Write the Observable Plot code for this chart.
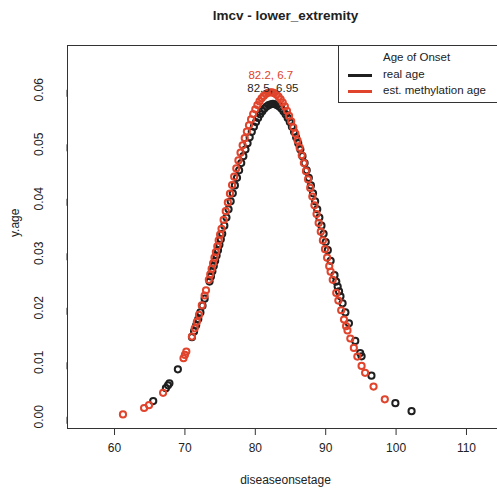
<!DOCTYPE html>
<html>
<head>
<meta charset="utf-8">
<script src="https://cdn.jsdelivr.net/npm/d3@7"></script>
<script src="https://cdn.jsdelivr.net/npm/@observablehq/plot@0.6"></script>
<style>
  html, body { margin: 0; padding: 0; background: #fff; overflow: hidden; }
  #wrap { position: relative; width: 503px; height: 489px; font-family: "Liberation Sans", Arial, sans-serif; color: #222; }
  #legend { position: absolute; left: 338px; top: 45px; width: 170px; height: 58px; border: 1px solid #333; box-sizing: border-box; background: #fff; font-size: 11.5px; }
  #legend .ttl { position: absolute; left: 44px; top: 5px; }
  #legend .row { position: absolute; left: 44px; }
  #legend .sw { position: absolute; left: 9px; width: 24px; height: 3px; }
</style>
</head>
<body>
<div id="wrap"></div>
<script>
// Series: real age (black)
const blackX = [65.5, 67.3, 67.6, 67.8, 69.0, 71.0, 71.3, 71.6, 71.9, 72.2, 72.5, 72.8, 73.5, 73.7, 73.9, 74.1, 74.3, 74.5, 74.7, 74.9, 75.1, 75.3, 75.6, 75.9, 76.2, 76.5, 76.8, 77.1, 77.4, 77.7, 78.0, 78.3, 78.6, 78.9, 79.2, 79.5, 79.8, 80.1, 80.4, 80.7, 81.0, 81.3, 81.6, 81.9, 82.2, 82.5, 82.8, 83.1, 83.4, 83.7, 84.0, 84.3, 84.6, 84.9, 85.2, 85.5, 85.8, 86.1, 86.4, 86.7, 87.0, 87.3, 87.6, 87.9, 88.2, 88.5, 88.8, 89.1, 89.4, 89.7, 90.0, 90.3, 90.7, 91.25, 91.5, 91.7, 91.9, 92.1, 92.4, 92.8, 93.3, 94.2, 94.9, 95.1, 96.5, 99.9, 102.2];
const blackY = [0.002883, 0.005252, 0.005767, 0.006131, 0.008702, 0.014601, 0.015668, 0.016781, 0.017938, 0.019141, 0.020388, 0.021673, 0.024818, 0.025751, 0.026695, 0.027651, 0.028620, 0.029595, 0.030579, 0.031570, 0.032567, 0.033566, 0.035069, 0.036569, 0.038065, 0.039543, 0.041009, 0.042448, 0.043855, 0.045222, 0.046548, 0.047822, 0.049042, 0.050194, 0.051284, 0.052296, 0.053229, 0.054080, 0.054841, 0.055509, 0.056081, 0.056552, 0.056923, 0.057188, 0.057349, 0.057402, 0.057349, 0.057188, 0.056923, 0.056552, 0.056081, 0.055509, 0.054841, 0.054080, 0.053229, 0.052296, 0.051284, 0.050194, 0.049042, 0.047822, 0.046548, 0.045222, 0.043855, 0.042448, 0.041009, 0.039543, 0.038065, 0.036569, 0.035069, 0.033566, 0.032065, 0.030579, 0.028620, 0.025986, 0.024818, 0.023903, 0.022998, 0.022111, 0.020812, 0.019141, 0.017163, 0.013917, 0.011688, 0.011099, 0.007547, 0.002500, 0.001033];

// Series: est. methylation age (red)
const redX = [61.2, 64.2, 64.9, 66.9, 69.8, 70.0, 70.2, 71.0, 71.4, 71.7, 72.0, 72.4, 72.8, 73.0, 73.4, 73.6, 73.8, 74.0, 74.2, 74.4, 74.6, 74.8, 75.0, 75.2, 75.5, 75.8, 76.1, 76.4, 76.7, 77.0, 77.3, 77.6, 77.9, 78.2, 78.5, 78.8, 79.1, 79.4, 79.7, 80.0, 80.3, 80.6, 80.9, 81.2, 81.5, 81.8, 82.1, 82.4, 82.7, 83.0, 83.3, 83.6, 83.9, 84.2, 84.5, 84.8, 85.1, 85.4, 85.7, 86.0, 86.3, 86.6, 86.9, 87.2, 87.5, 87.8, 88.1, 88.4, 88.7, 89.0, 89.3, 89.6, 89.9, 90.2, 90.5, 90.7, 91.0, 91.5, 91.8, 92.2, 92.6, 92.9, 93.1, 93.5, 94.0, 94.5, 95.1, 95.6, 96.8, 98.4];
const redY = [0.000438, 0.001613, 0.002124, 0.004391, 0.010742, 0.011348, 0.011976, 0.014725, 0.016241, 0.017439, 0.018688, 0.020430, 0.022254, 0.023197, 0.025133, 0.026126, 0.027135, 0.028157, 0.029191, 0.030235, 0.031293, 0.032356, 0.033424, 0.034497, 0.036115, 0.037732, 0.039340, 0.040937, 0.042514, 0.044059, 0.045574, 0.047039, 0.048463, 0.049825, 0.051122, 0.052348, 0.053500, 0.054565, 0.055540, 0.056419, 0.057197, 0.057870, 0.058434, 0.058884, 0.059220, 0.059438, 0.059537, 0.059517, 0.059378, 0.059121, 0.058747, 0.058258, 0.057658, 0.056950, 0.056137, 0.055225, 0.054220, 0.053126, 0.051950, 0.050698, 0.049377, 0.047994, 0.046557, 0.045072, 0.043547, 0.041990, 0.040407, 0.038806, 0.037194, 0.035577, 0.033962, 0.032356, 0.030764, 0.029191, 0.027644, 0.026629, 0.025133, 0.022722, 0.021332, 0.019548, 0.017851, 0.016635, 0.015854, 0.014361, 0.012628, 0.011041, 0.009329, 0.008059, 0.005543, 0.003202];

// Peak annotations
const annX = [82.5, 82.2];
const annY = [0.0603, 0.0627];
const annText = ["82.5, 6.95", "82.2, 6.7"];
const annColor = ["#1f1f1f", "#e0442c"];

// Ticks
const xTicks = [60, 70, 80, 90, 100, 110];
const xTickLabels = ["60", "70", "80", "90", "100", "110"];
const yTicks = [0, 0.01, 0.02, 0.03, 0.04, 0.05, 0.06];
const yTickLabels = ["0.00", "0.01", "0.02", "0.03", "0.04", "0.05", "0.06"];

const seriesNames = ["real age", "est. methylation age"];
const seriesColors = ["#1f1f1f", "#e0442c"];

const blackData = blackX.map((x, i) => ({x, y: blackY[i]}));
const redData = redX.map((x, i) => ({x, y: redY[i]}));
const annData = annX.map((x, i) => ({x, y: annY[i], t: annText[i], c: annColor[i]}));

const chart = Plot.plot({
  width: 503,
  height: 489,
  marginLeft: 67,
  marginRight: 0,
  marginTop: 45,
  marginBottom: 61,
  x: {domain: [53.32, 115.26]},
  y: {domain: [-0.00215, 0.06813]},
  style: {fontFamily: "'Liberation Sans', Arial, sans-serif", fontSize: "12px", color: "#222", background: "white", overflow: "visible"},
  marks: [
    Plot.axisX({ticks: xTicks, tickSize: 7, tickPadding: 8, tickFormat: d => xTickLabels[xTicks.indexOf(d)], fontSize: 12, label: null, stroke: "#333"}),
    Plot.axisY({ticks: yTicks, tickSize: 7, tickPadding: 21, rotate: -90, textAnchor: "middle", tickFormat: d => yTickLabels[yTicks.findIndex(t => Math.abs(t - d) < 1e-9)], fontSize: 12, label: null, stroke: "#333"}),
    Plot.dot(blackData, {x: "x", y: "y", r: 3.1, stroke: seriesColors[0], strokeWidth: 2}),
    Plot.dot(redData, {x: "x", y: "y", r: 3.1, stroke: seriesColors[1], strokeWidth: 2}),
    Plot.text(annData, {x: "x", y: "y", text: "t", fill: "c", fontSize: 11.5}),
    Plot.frame({stroke: "#333"}),
    Plot.text(["lmcv - lower_extremity"], {frameAnchor: "top", dy: -30, lineAnchor: "middle", fontWeight: "bold", fontSize: 13.5, fill: "#222"}),
    Plot.text(["diseaseonsetage"], {frameAnchor: "bottom", dy: 52, lineAnchor: "middle", fontSize: 12, fill: "#222"}),
    Plot.text(["y.age"], {frameAnchor: "left", dx: -52, rotate: -90, lineAnchor: "middle", fontSize: 12, fill: "#222"})
  ]
});

const wrap = document.getElementById("wrap");
wrap.appendChild(chart);

const legend = document.createElement("div");
legend.id = "legend";
legend.innerHTML = `<div class="ttl">Age of Onset</div>` +
  seriesNames.map((n, i) => `<div class="sw" style="top:${28 + i * 16}px;background:${seriesColors[i]}"></div><div class="row" style="top:${22 + i * 16}px">${n}</div>`).join("");
wrap.appendChild(legend);
</script>
</body>
</html>
